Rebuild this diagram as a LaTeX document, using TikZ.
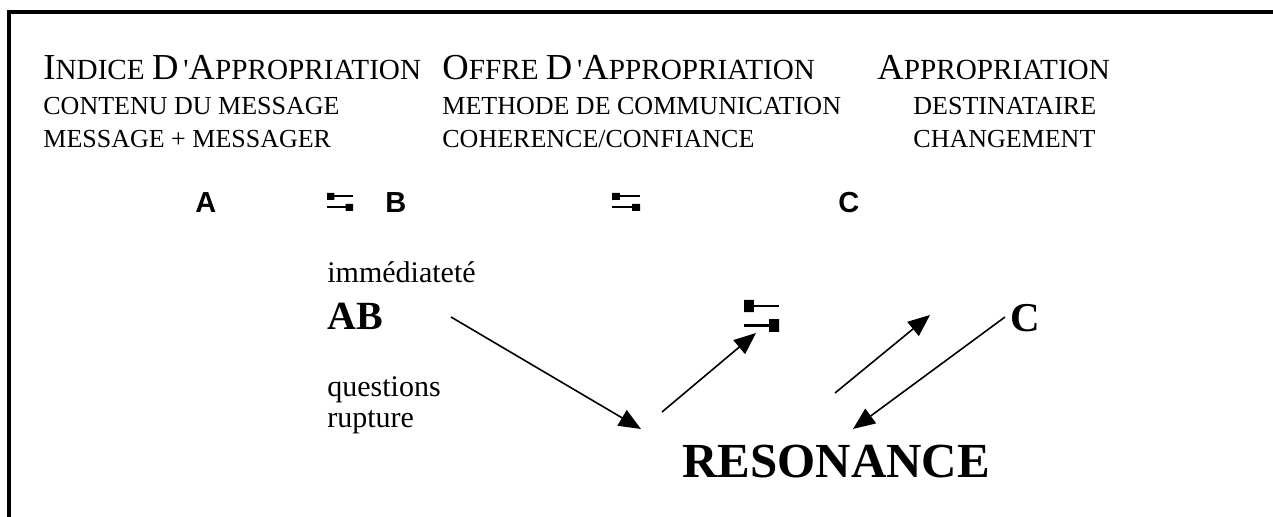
\documentclass[tikz,border=0pt]{standalone}
\usepackage{fontspec}
\setmainfont{Liberation Serif}
\newfontfamily\arialfont{Liberation Sans}
\usetikzlibrary{arrows.meta}

% first letter large, the rest in reduced capitals
\newcommand{\smallcap}[2]{{\fontsize{18.3}{20}\selectfont #1}{\fontsize{14.6}{16}\selectfont #2}}

\begin{document}
\begin{tikzpicture}[x=0.5pt, y=-0.5pt, >={Triangle[length=11pt, width=9pt]},
    txt/.style={anchor=base west, inner sep=0pt},
    titletxt/.style={txt, font=\fontsize{14.6}{16}\selectfont},
    sub/.style={txt, font=\fontsize{13}{15}\selectfont},
    letter/.style={txt, font=\arialfont\bfseries\fontsize{14.5}{16}\selectfont},
    note/.style={txt, font=\fontsize{15}{16}\selectfont},
    big/.style={txt, font=\bfseries\fontsize{20}{22}\selectfont},
    flow/.style={->, line width=0.8pt},
    swapmark/.pic={
        \draw[line width=1.1pt] (0,0.18) -- (1,0.18) (0,0.8) -- (1,0.8);
        \fill (0,0) rectangle (0.28,0.38) (0.72,0.6) rectangle (1,1);
    }]
    \useasboundingbox (0,0) rectangle (1273,517);
    \draw[line width=2pt] (9,517) -- (9,12) -- (1273,12);

    % headings
    \node[titletxt] (indice) at (43,80) {\smallcap{I}{NDICE} \smallcap{D}{}\,\textquotesingle\smallcap{A}{PPROPRIATION}};
    \node[sub] (contenu) at (43,115) {CONTENU DU MESSAGE};
    \node[sub] (messager) at (43,148) {MESSAGE + MESSAGER};
    \node[titletxt] (offre) at (442,80) {\smallcap{O}{FFRE} \smallcap{D}{}\,\textquotesingle\smallcap{A}{PPROPRIATION}};
    \node[sub] (methode) at (442,115) {METHODE DE COMMUNICATION};
    \node[sub] (coherence) at (442,148) {COHERENCE/CONFIANCE};
    \node[titletxt] (approp) at (877,80) {\smallcap{A}{PPROPRIATION}};
    \node[sub] (destinataire) at (913,115) {DESTINATAIRE};
    \node[sub] (changement) at (913,148) {CHANGEMENT};

    % A - B - C
    \node[letter] (A) at (195,213) {A};
    \pic[xscale=26, yscale=18] (swapAB) at (327,193) {swapmark};
    \node[letter] (B) at (385,213) {B};
    \pic[xscale=28, yscale=18] (swapBC) at (612,193) {swapmark};
    \node[letter] (C) at (838,213) {C};

    % lower part
    \node[note] (immediatete) at (327,283) {immédiateté};
    \node[big] (AB) at (327,330) {AB};
    \node[note] (questions) at (327,397) {questions};
    \node[note] (rupture) at (327,428) {rupture};
    \node[big, font=\bfseries\fontsize{24.5}{26}\selectfont] (resonance) at (682,478) {RESONANCE};
    \pic[xscale=35, yscale=32] (swapmid) at (744,300) {swapmark};
    \node[big, font=\bfseries\fontsize{20.5}{22}\selectfont] (Cbig) at (1010,332) {C};

    \coordinate (ab-end) at (451,317);
    \coordinate (res-left) at (641,429);
    \coordinate (res-mid) at (662,412);
    \coordinate (swap-in) at (756,333);
    \coordinate (up-start) at (835,393);
    \coordinate (up-end) at (930,315);
    \coordinate (c-start) at (1005,317);
    \coordinate (res-right) at (853,429);

    \path (ab-end) edge[flow] (res-left)
          (res-mid) edge[flow] (swap-in)
          (up-start) edge[flow] (up-end)
          (c-start) edge[flow] (res-right);
\end{tikzpicture}
\end{document}
